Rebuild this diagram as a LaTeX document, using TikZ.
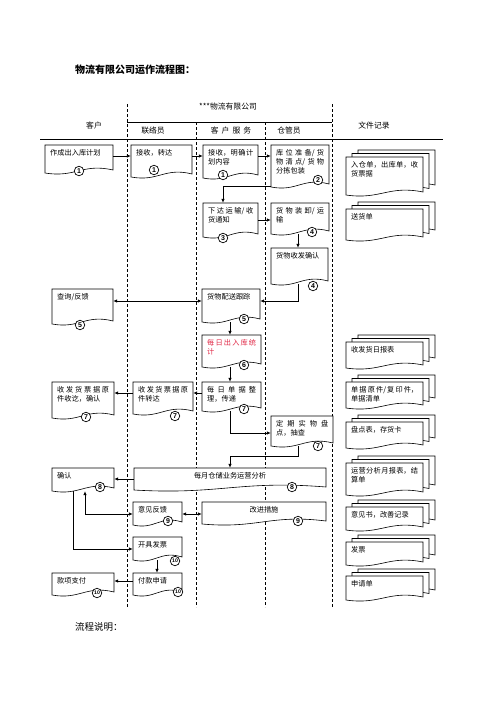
\documentclass[tikz,border=0pt]{standalone}
\usepackage{fontspec}
\setmainfont{Noto Sans CJK SC}
\newfontfamily\numfont{Liberation Sans}
\usetikzlibrary{arrows.meta}
\XeTeXlinebreaklocale "zh"
\XeTeXlinebreakskip=0pt plus 3pt
\definecolor{redtxt}{RGB}{225,40,70}
\tikzset{
 doc/.style={draw=black,line width=0.6pt,fill=white},
 boxarea/.style={draw=none,inner sep=0pt,rectangle},
 boxtext/.style={inner sep=0pt,anchor=north west,align=justify,font=\fontsize{7.2}{9}\selectfont},
 boxtextc/.style={inner sep=0pt,anchor=north,font=\fontsize{7.2}{9}\selectfont},
 cnum/.style={circle,draw=black,line width=0.7pt,fill=white,inner sep=0pt,minimum size=9.5pt,font=\numfont\bfseries\fontsize{7}{7}\selectfont},
 arr/.style={line width=0.7pt,-{Latex[length=4pt,width=3.5pt]}},
 darr/.style={line width=0.7pt,{Latex[length=4pt,width=3.5pt]}-{Latex[length=4pt,width=3.5pt]}},
 lane/.style={line width=0.7pt,dash pattern=on 3pt off 2pt},
 hdr/.style={inner sep=0pt,font=\fontsize{7.8}{9}\selectfont},
}
\newcommand\docshape[4]{%
 \pgfmathsetmacro\dsx{(#1)+0.55*((#3)-(#1))}%
 \pgfmathsetmacro\dsy{(#1)+0.45*((#3)-(#1))}%
 \draw[doc] ({#1},{#2}) -- ({#3},{#2}) -- ({#3},{(#4)-3}) .. controls ({\dsx},{(#4)-10}) and ({\dsy},{(#4)+5}) .. ({#1},{#4}) -- cycle;}
\newcommand\docarea[5]{%
 \docshape{#2}{#3}{#4}{#5}%
 \pgfmathsetlengthmacro\dnw{((#4)-(#2))*1pt}%
 \pgfmathsetlengthmacro\dnh{((#5)-(#3))*1pt}%
 \node[boxarea,minimum width=\dnw,minimum height=\dnh] (#1) at ({((#2)+(#4))/2},{((#3)+(#5))/2}) {};}
\newcommand\docnode[7][]{%
 \docarea{#2}{#3}{#4}{#5}{#6}%
 \pgfmathsetlengthmacro\dntw{((#5)-(#3)-10)*1pt}%
 \node[boxtext,text width=\dntw,#1] (#2-t) at ({(#3)+5},{(#4)+4}) {#7};}
\newcommand\docnodec[6]{%
 \docarea{#1}{#2}{#3}{#4}{#5}%
 \node[boxtextc] (#1-t) at ({((#2)+(#4))/2},{(#3)+4}) {#6};}
\newcommand\stack[4]{%
 \docshape{358}{(#2)-7}{435}{(#3)-7}%
 \docshape{352}{(#2)-3.5}{429}{(#3)-3.5}%
 \docnode{#1}{346}{#2}{423}{#3}{#4}}
\newcommand\cn[4]{\node[cnum] (#1) at (#2,#3) {#4};}
\newcommand\ten{{\fontsize{5.2}{5.2}\selectfont 10}}

\begin{document}
\begin{tikzpicture}[x=1pt,y=-1pt]
\useasboundingbox (0,0) rectangle (496,702);
% helper coordinates
\coordinate (h156) at (0,156);
\coordinate (h186) at (0,186);
\coordinate (h220) at (0,220);
\coordinate (h301) at (0,301);
\coordinate (h393) at (0,393);
\coordinate (h433) at (0,433);
\coordinate (h456) at (0,456);
\coordinate (h479) at (0,479);
\coordinate (h514) at (0,514);
\coordinate (h549) at (0,549);
\coordinate (h581) at (0,581);
\coordinate (v73) at (73,0);
\coordinate (v85) at (85,0);
\coordinate (v157) at (157,0);
\coordinate (v223) at (223,0);
\coordinate (v230) at (230,0);
\coordinate (v298) at (298,0);

% title
\node[anchor=west,inner sep=0pt,font=\bfseries\fontsize{10}{12}\selectfont] (title) at (75,70) {物流有限公司运作流程图：};
\node[anchor=west,inner sep=0pt,font=\fontsize{9.5}{11}\selectfont] (note) at (75,627) {流程说明：};

% header
\draw[lane] (127,104) -- (127,607);
\draw[lane] (332,104) -- (332,607);
\draw[lane] (196,122) -- (196,607);
\draw[lane] (265,122) -- (265,607);
\draw[line width=0.8pt] (127,122) -- (332,122);
\draw[line width=0.8pt] (40,139) -- (443,139);
\node[hdr] (hco) at (228,107) {***物流有限公司};
\node[hdr] (hcust) at (94,126) {客户};
\node[hdr] (hl) at (153,131) {联络员};
\node[hdr] (hs) at (231,131) {客\hspace{3pt}户\hspace{3pt}服\hspace{3pt}务};
\node[hdr] (hw) at (289,131) {仓管员};
\node[hdr] (hdoc) at (374,126) {文件记录};

% process boxes
\docnode{c1}{45}{145}{113}{173}{作成出入库计划}
\docnode{l1}{131}{145}{192}{177}{接收，转达}
\docnode{s1}{203}{145}{258}{178}{接收，明确计\linebreak 划内容}
\docnode{w2}{271}{145}{329}{187}{库位准备/货\linebreak 物清点/货物\linebreak 分拣包装}
\docnode{s3}{203}{203}{258}{237}{下达运输/收\linebreak 货通知}
\docnode{w4}{271}{203}{329}{234}{货物装卸/运\linebreak 输}
\docnode{w4b}{271}{248}{328}{284}{货物收发确认}
\docnode{c5}{52}{289}{113}{324}{查询/反馈}
\docnode{s5}{202}{289}{260}{322}{货物配送跟踪}
\docnode[text=redtxt]{s6}{202}{335}{261}{367}{每日出入库统\linebreak 计}
\docnode{s7}{202}{382}{261}{411}{每日单据整\linebreak 理，传递}
\docnode{l7}{133}{382}{193}{414}{收发货票据原\linebreak 件转达}
\docnode{c7}{52}{382}{114}{418}{收发货票据原\linebreak 件收讫，确认}
\docnode{w7}{271}{416}{333}{446}{定期实物盘\linebreak 点，抽查}
\docnodec{s8}{134}{468}{326}{490}{每月仓储业务运营分析}
\docnode{c8}{52}{468}{114}{491}{确认}
\docnode{l9}{133}{502}{182}{525}{意见反馈}
\docnodec{s9}{202}{502}{326}{524}{改进措施}
\docnode{l10}{133}{537}{182}{560}{开具发票}
\docnode{l10b}{133}{573}{182}{595}{付款申请}
\docnode{c10}{52}{573}{114}{595}{款项支付}

% document stacks
\stack{d1}{157}{195}{入仓单，出库单，收\linebreak 货票据}
\stack{d2}{209}{240}{送货单}
\stack{d3}{342}{368}{收发货日报表}
\stack{d4}{382}{408}{单据原件/复印件，\linebreak 单据清单}
\stack{d5}{422}{448}{盘点表，存货卡}
\stack{d6}{463}{495}{运营分析月报表，结\linebreak 算单}
\stack{d7}{507}{530}{意见书，改善记录}
\stack{d8}{542}{565}{发票}
\stack{d9}{576}{600}{申请单}

% connectors
\draw[arr] (c1.east |- h156) -- (l1.west |- h156);
\draw[arr] (l1.east |- h156) -- (s1.west |- h156);
\draw[arr] (s1.east |- h156) -- (w2.west |- h156);
\draw[arr] (w2.west |- h186) -| (v223 |- s3.north);
\draw[arr] (s3.east |- h220) -- (w4.west |- h220);
\draw[arr] (v298 |- w4.south) -- (v298 |- w4b.north);
\draw[arr] (v298 |- w4b.south) |- (s5.east |- h301);
\draw[darr] (s5.west |- h301) -- (c5.east |- h301);
\draw[arr] (v230 |- s5.south) -- (v230 |- s6.north);
\draw[arr] (v230 |- s6.south) -- (v230 |- s7.north);
\draw[arr] (s7.west |- h393) -- (l7.east |- h393);
\draw[arr] (l7.west |- h393) -- (c7.east |- h393);
\draw[arr] (v230 |- s7.south) |- (w7.west |- h433);
\draw[arr] (v298 |- w7.south) -- (v298 |- h456) -- (v230 |- h456) -- (v230 |- s8.north);
\draw[arr] (s8.west |- h479) -- (c8.east |- h479);
\draw[darr] (v85 |- c8.south) |- (l9.west |- h514);
\draw[darr] (l9.east |- h514) -- (s9.west |- h514);
\draw[arr] (v73 |- c8.south) |- (l10.west |- h549);
\draw[arr] (v157 |- l10.south) -- (v157 |- l10b.north);
\draw[arr] (l10b.west |- h581) -- (c10.east |- h581);

% circled numbers
\cn{n-c1}{79}{171}{1}
\cn{n-l1}{154}{170}{1}
\cn{n-s1}{223}{175}{1}
\cn{n-w2}{318}{180}{2}
\cn{n-s3}{223}{238}{3}
\cn{n-w4}{312}{232}{4}
\cn{n-w4b}{313}{286}{4}
\cn{n-c5}{80}{325}{5}
\cn{n-s5}{244}{319}{5}
\cn{n-s6}{244}{365}{6}
\cn{n-s7}{244}{409}{7}
\cn{n-l7}{175}{416}{7}
\cn{n-c7}{86}{417}{7}
\cn{n-w7}{318}{446}{7}
\cn{n-s8}{292}{487}{8}
\cn{n-c8}{100}{487}{8}
\cn{n-l9}{168}{521}{9}
\cn{n-s9}{298}{521}{9}
\cn{n-l10}{175}{561}{\ten}
\cn{n-l10b}{178}{592}{\ten}
\cn{n-c10}{97}{593}{\ten}
\end{tikzpicture}
\end{document}
